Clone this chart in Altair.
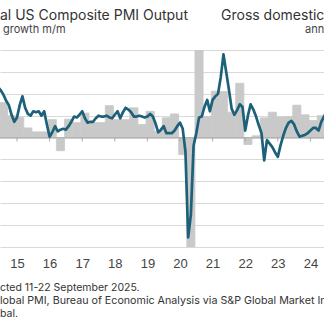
import altair as alt
import pandas as pd

# ---- data ----
# PMI-based output growth, monthly, Jun 2014 .. Jul 2024
pmi_months = pd.date_range("2014-06-01", "2024-07-01", freq="MS")
pmi_values = [
    5.8, 5.4, 4.9, 4.2, 3.7, 2.6, 1.8,                                  # 2014 Jun-Dec
    2.3, 3.7, 4.7, 3.4, 2.7, 2.5, 3.0, 2.9, 3.0, 2.5, 3.0, 1.5,          # 2015
    0.1, 0.6, 1.3, 0.7, 0.9, 1.0, 0.9, 1.3, 1.8, 2.4, 2.3, 2.6,          # 2016
    3.0, 2.2, 1.7, 1.8, 1.8, 2.2, 2.5, 2.4, 2.4, 2.5, 2.3, 2.2,          # 2017
    2.6, 3.0, 2.2, 2.9, 3.4, 3.2, 2.9, 2.4, 2.4, 2.5, 2.4, 2.3,          # 2018
    2.4, 2.7, 2.4, 1.6, 0.6, 0.9, 1.3, 0.5, 0.5, 0.5, 0.8, 1.3,          # 2019
    1.7, 1.0, -1.6, -11.4, -8.8, -0.9, 0.5, 2.3, 2.4, 3.5, 4.3, 3.0,     # 2020
    4.3, 4.7, 5.0, 6.9, 9.5, 7.5, 5.5, 3.3, 2.6, 3.1, 3.8, 3.5,          # 2021
    0.8, 2.5, 3.8, 3.2, 2.4, 1.4, 0.5, -2.6, -0.3, -0.7, -1.1, -1.7,     # 2022
    -2.2, -0.9, 0.2, 1.1, 1.7, 1.9, 1.5, 0.7, 0.1, 0.2, 0.3, 0.5,        # 2023
    0.8, 1.1, 1.1, 0.8, 1.8, 2.4, 3.0,                                   # 2024 Jan-Jul
]

# GDP, annualized %, quarterly, 2014 Q3 .. 2024 Q2
gdp_quarters = pd.period_range("2014Q3", "2024Q2", freq="Q")
gdp_values = [
    4.0, 2.5,
    2.3, 1.1, 0.65, 0.65,
    2.05, -1.5, 2.1, 1.7,
    2.8, 1.7, 1.7, 3.65,
    2.05, 2.05, 3.4, 1.5,
    3.0, 0.7, 2.25, 2.7,
    -1.95, -28.0, 34.9, 2.4,
    5.3, 5.25, 2.9, 6.2,
    -0.8, 0.2, 2.25, 2.9,
    2.35, 2.4, 3.7, 2.6,
    1.95, 2.5,
]

tick_years = [2015, 2016, 2017, 2018, 2019, 2020, 2021, 2022, 2023, 2024]
grid_values = [-12.5, -10, -7.5, -5, -2.5, 0, 2.5, 5, 7.5, 10]

# ---- tables ----
pmi_df = pd.DataFrame({
    "t": [d.year + (d.month - 1) / 12 for d in pmi_months],
    "v": pmi_values,
})
gdp_df = pd.DataFrame({
    "t": [q.year + (3 * q.quarter - 2) / 12 for q in gdp_quarters],
    "v": gdp_values,
})
gdp_df["t0"] = gdp_df["t"] - 1.5 / 12
gdp_df["t1"] = gdp_df["t"] + 1.5 / 12
gdp_df["base"] = 0.0
years_df = pd.DataFrame({"t": tick_years})
years_df["v"] = 0.0
years_df["v2"] = -0.45

XDOM = [2014.4785, 2024.417]
YDOM = [-12.5, 10]
xs = alt.Scale(domain=XDOM, nice=False, zero=False)
ys = alt.Scale(domain=YDOM, nice=False, zero=False)

LABEL_FONT = "Liberation Sans"
TITLE_FONT = "Inter"

xaxis = alt.Axis(
    values=tick_years, labelExpr="substring(toString(datum.value), 2)",
    ticks=False, domain=False, grid=False, labelPadding=10,
    labelFontSize=13, labelColor="#444444", labelFont=LABEL_FONT,
    title=None, labelFlush=False,
)
yaxis = alt.Axis(
    values=grid_values, labels=False, ticks=False, domain=False,
    grid=True, gridColor="#d9d9d9", gridWidth=1, title=None,
)


def X(f):
    return alt.X(f, type="quantitative", scale=xs, axis=xaxis)


def Y(f):
    return alt.Y(f, type="quantitative", scale=ys, axis=yaxis)


bars = alt.Chart(gdp_df).mark_rect(
    color="#c9c9c9", clip=True, stroke="#c9c9c9", strokeWidth=0.8
).encode(
    x=X("t0"), x2="t1",
    y=Y("v"), y2="base",
)

zero_line = alt.Chart(years_df).mark_rule(color="#b5b5b5", strokeWidth=1).encode(
    y=Y("v")
)

ticks = alt.Chart(years_df).mark_rule(color="#a8a8a8", strokeWidth=1).encode(
    x=X("t"), y=Y("v"), y2="v2",
)

line = alt.Chart(pmi_df).mark_line(
    color="#1c6079", strokeWidth=2.7, clip=True, strokeJoin="round"
).encode(
    x=X("t"), y=Y("v"),
)

one = pd.DataFrame({"k": [0]})


def label(txt, x, y, size, color, font=TITLE_FONT, weight="normal"):
    return alt.Chart(one).mark_text(
        align="left", baseline="alphabetic", fontSize=size, color=color,
        font=font, fontWeight=weight
    ).encode(x=alt.value(x), y=alt.value(y), text=alt.value(txt))


texts = [
    label("al US Composite PMI Output", 0, -30, 14, "#333333"),
    label("Gross domestic product", 221, -30, 14, "#333333"),
    label("growth m/m", 3, -17, 11, "#444444"),
    label("annualized %", 305, -17, 11, "#444444"),
    label("cted 11-22 September 2025.", 0, 241, 10.5, "#333333"),
    label("lobal PMI, Bureau of Economic Analysis via S&P Global Market Intelligence.", 0, 254, 10.7, "#333333"),
    label("bal.", 0, 267, 10.5, "#333333"),
]

chart = alt.layer(bars, zero_line, ticks, line, *texts).properties(
    width=324, height=197,
    padding={"left": 0, "right": 0, "top": 50, "bottom": 80},
    autosize="none",
    background="white",
).configure_view(stroke=None)

chart.save("out.html", embed_options={"renderer": "svg", "actions": False})
